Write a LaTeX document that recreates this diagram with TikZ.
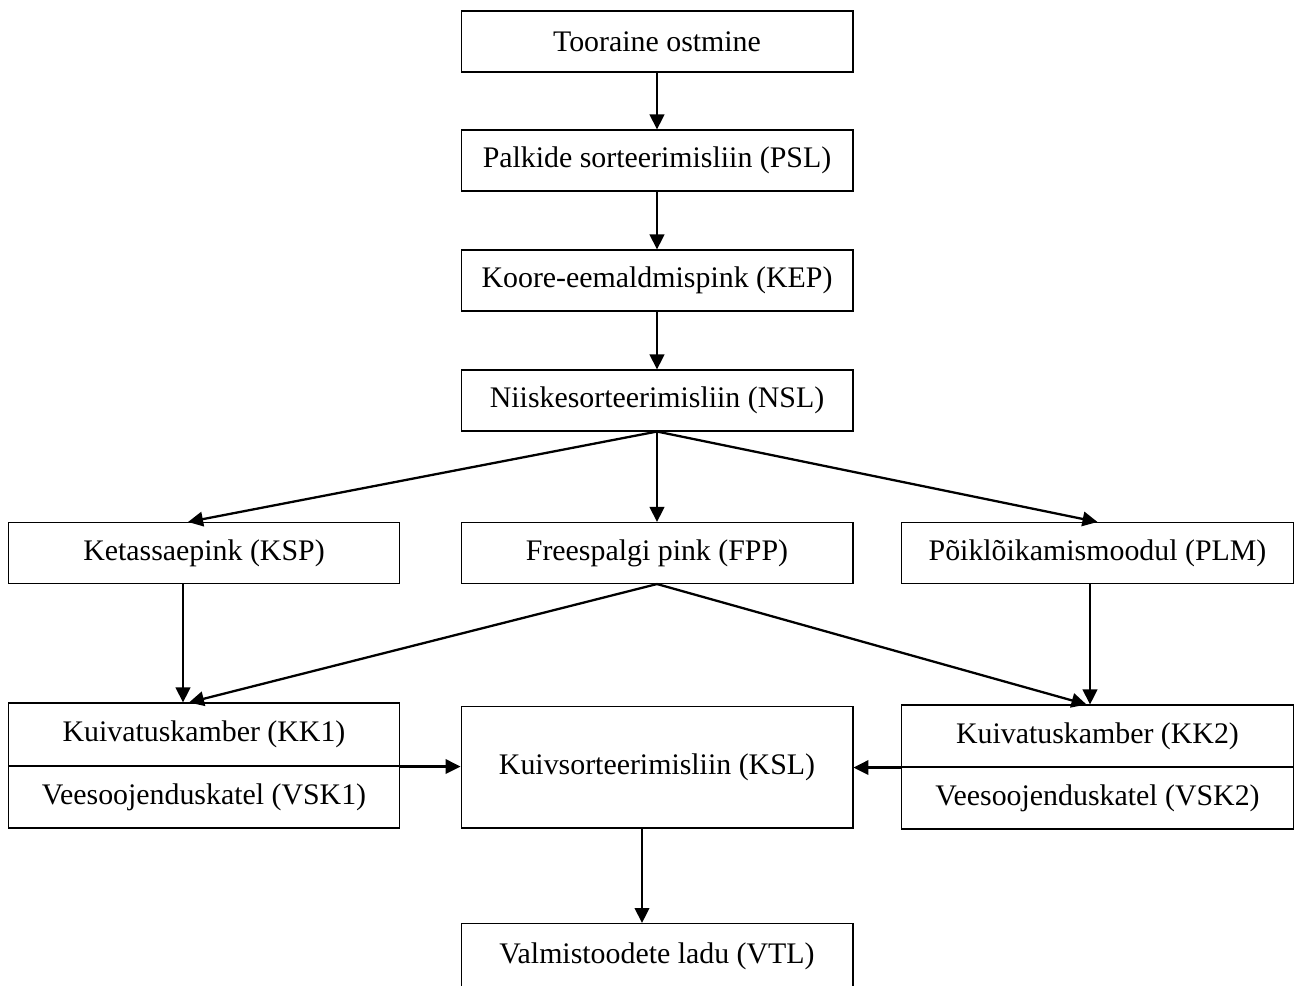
\documentclass[tikz,border=0pt]{standalone}
\usepackage{fontspec}
\setmainfont{Liberation Serif}
\usetikzlibrary{arrows.meta, positioning, calc}
\tikzset{
  every picture/.style={font=\fontsize{17}{20}\selectfont},
  box/.style={draw, line width=0.6pt, align=center, inner sep=0pt, minimum width=7.84cm, minimum height=#1},
  box/.default=1.22cm,
  arrow/.style={-{Triangle[length=0.3cm, width=0.29cm]}, line width=1.3pt},
}

\begin{document}
\begin{tikzpicture}[x=0.02cm, y=-0.02cm]
  \useasboundingbox (0,0) rectangle (1294,985);
  % main line
  \node[box] (toor) at (657,41.5) {Tooraine ostmine};
  \node[box] (psl) at (657,160.5) {Palkide sorteerimisliin (PSL)};
  \node[box] (kep) at (657,280.5) {Koore-eemaldmispink (KEP)};
  \node[box] (nsl) at (657,400.5) {Niiskesorteerimisliin (NSL)};
  \foreach \a/\b in {toor/psl,psl/kep,kep/nsl} {\draw[arrow] (\a.south) -- (\b.north);}
  % sawing
  \node[box] (ksp) at (204,553) {Ketassaepink (KSP)};
  \node[box] (fpp) at (657,553) {Freespalgi pink (FPP)};
  \node[box] (plm) at (1097.5,553) {Põiklõikamismoodul (PLM)};
  \draw[arrow] (nsl.south) -- ([xshift=-0.32cm]ksp.north);
  \draw[arrow] (nsl.south) -- (fpp.north);
  \draw[arrow] (nsl.south) -- (plm.north);
  % drying
  \node[box=1.26cm] (kk1) at (204,734.5) {Kuivatuskamber (KK1)};
  \node[box=1.24cm] (vsk1) at (204,797) {Veesoojenduskatel (VSK1)};
  \node[box=1.24cm] (kk2) at (1097.5,736) {Kuivatuskamber (KK2)};
  \node[box=1.24cm] (vsk2) at (1097.5,798) {Veesoojenduskatel (VSK2)};
  \node[box=2.44cm] (ksl) at (657,767) {Kuivsorteerimisliin (KSL)};
  \draw[arrow] ([xshift=-0.42cm]ksp.south) -- ([xshift=-0.42cm]kk1.north);
  \draw[arrow] (fpp.south) -- ([xshift=-0.3cm]kk1.north);
  \draw[arrow] ([xshift=-0.15cm]plm.south) -- ([xshift=-0.15cm]kk2.north);
  \draw[arrow] (fpp.south) -- ([xshift=-0.22cm]kk2.north);
  \draw[arrow] (kk1.south east) -- (kk1.south east -| ksl.west);
  \draw[arrow] (kk2.south west) -- (kk2.south west -| ksl.east);
  % storage
  \node[box=1.3cm] (vtl) at (657,956) {Valmistoodete ladu (VTL)};
  \draw[arrow] ([xshift=-0.3cm]ksl.south) -- ([xshift=-0.3cm]vtl.north);
\end{tikzpicture}
\end{document}
